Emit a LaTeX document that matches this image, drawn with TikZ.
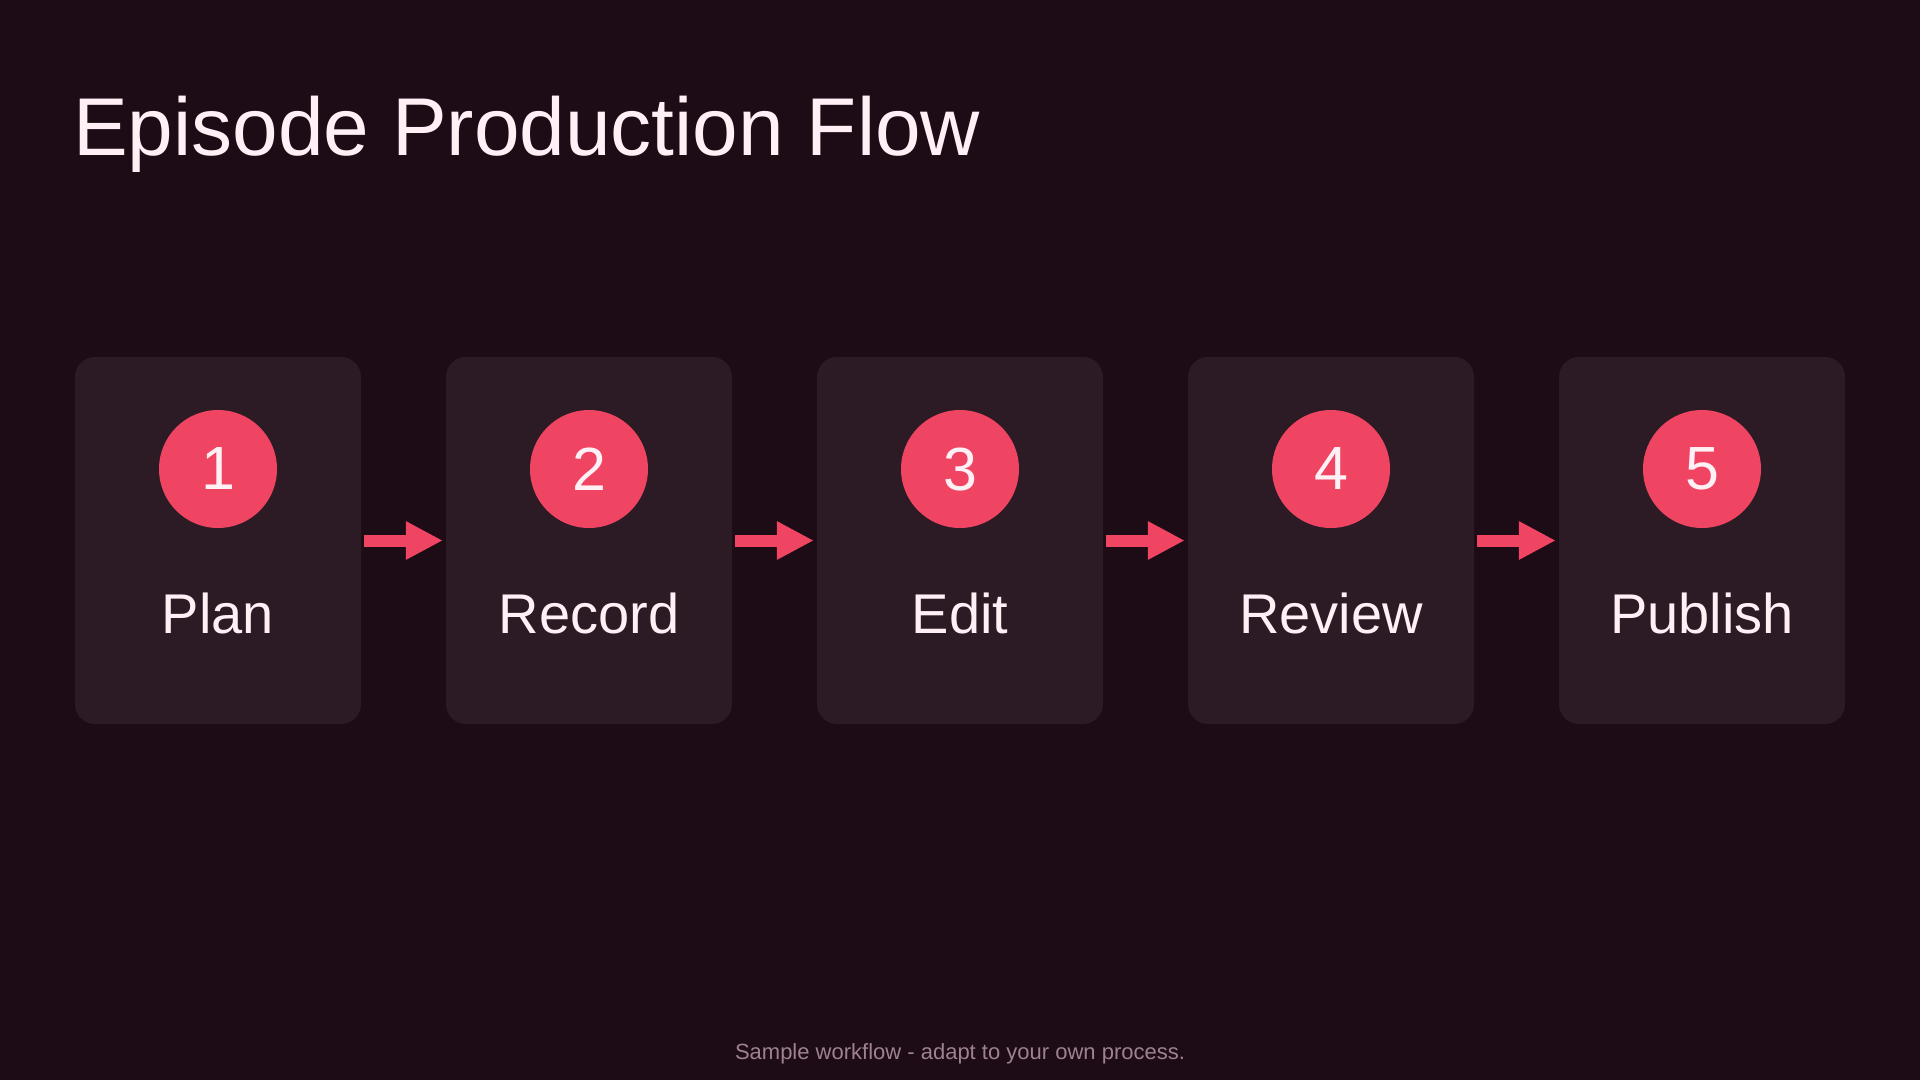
\documentclass[tikz,border=0pt]{standalone}
\usepackage{fontspec}
\setmainfont{Liberation Sans}
\usepackage{xcolor}
\usetikzlibrary{arrows.meta}

\definecolor{bgcol}{HTML}{1D0B15}
\definecolor{boxcol}{HTML}{2C1B24}
\definecolor{accent}{HTML}{EF4462}
\definecolor{textcol}{HTML}{FFF0F5}
\definecolor{notecol}{HTML}{9E8290}

\tikzset{
  stepbox/.style={rectangle, rounded corners=20pt, fill=boxcol, minimum width=286pt, minimum height=367pt, inner sep=0pt},
  badge/.style={circle, fill=accent, minimum size=118pt, inner sep=0pt, text=textcol, font=\fontsize{61}{70}\selectfont},
  steplabel/.style={anchor=base, inner sep=0pt, text=textcol, font=\fontsize{56}{66}\selectfont},
  flow/.style={-{Triangle[length=37pt,width=36pt]}, line width=12pt, accent, shorten <=3pt, shorten >=3pt}
}

\begin{document}
\begin{tikzpicture}[x=1pt, y=-1pt]
        % Background
        \fill[bgcol] (0,0) rectangle (1920,1080);
        \useasboundingbox (0,0) rectangle (1920,1080);

        % Title
        \node[anchor=base west, inner sep=0pt, text=textcol, font=\fontsize{82}{98}\selectfont] (title) at (73,155) {Episode Production Flow};

        % Steps
        \node[stepbox] (plan) at (218,540.5) {};
        \node[stepbox] (record) at (589,540.5) {};
        \node[stepbox] (edit) at (960,540.5) {};
        \node[stepbox] (review) at (1331,540.5) {};
        \node[stepbox] (publish) at (1702,540.5) {};

        % Numbers
        \node[badge] (n1) at (218,469) {1};
        \node[badge] (n2) at (589,469) {2};
        \node[badge] (n3) at (960,469) {3};
        \node[badge] (n4) at (1331,469) {4};
        \node[badge] (n5) at (1702,469) {5};

        % Labels
        \node[steplabel] (l1) at (218,633) {Plan};
        \node[steplabel] (l2) at (589,633) {Record};
        \node[steplabel] (l3) at (960,633) {Edit};
        \node[steplabel] (l4) at (1331,633) {Review};
        \node[steplabel] (l5) at (1702,633) {Publish};

        % Connections
        \draw[flow] (plan) -- (record);
        \draw[flow] (record) -- (edit);
        \draw[flow] (edit) -- (review);
        \draw[flow] (review) -- (publish);

        % Footer
        \node[anchor=base, inner sep=0pt, text=notecol, font=\fontsize{22}{26}\selectfont] (note) at (960,1059) {Sample workflow - adapt to your own process.};
    \end{tikzpicture}
\end{document}
